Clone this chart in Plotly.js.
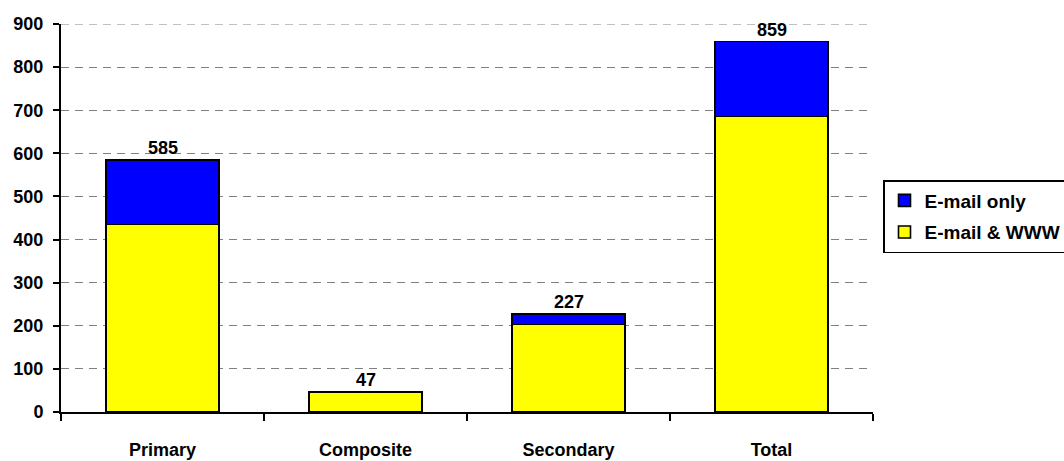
<!DOCTYPE html>
<html>
<head>
<meta charset="utf-8">
<script src="https://cdn.plot.ly/plotly-3.0.1.min.js"></script>
<style>
  html, body { margin: 0; padding: 0; background: #fff; }
  #chart { width: 1064px; height: 461px; }
</style>
</head>
<body>
<div id="chart"></div>
<script>
// School groups along the x axis
const categories = ['Primary', 'Composite', 'Secondary', 'Total'];
// Schools with both e-mail and web access
const emailAndWww = [435, 47, 203, 685];
// Schools with e-mail access only
const emailOnly = [150, 0, 24, 174];
// Axis ticks
const yTicks = [0, 100, 200, 300, 400, 500, 600, 700, 800, 900];

const totals = categories.map((_, i) => emailAndWww[i] + emailOnly[i]);
const bold = s => '<b>' + s + '</b>';

const FAMILY = 'Liberation Sans, Arial, sans-serif';
const font = { family: FAMILY, color: '#000', size: 18 };

const barLine = { color: '#000', width: 1.6 };

const traces = [
  {
    type: 'bar', name: bold('E-mail & WWW'), x: categories, y: emailAndWww,
    legendgroup: 'www', legendrank: 2,
    marker: { color: '#ffff00', line: barLine }, hoverinfo: 'none'
  },
  {
    type: 'bar', name: bold('E-mail only'), x: categories, y: emailOnly,
    legendgroup: 'mail', legendrank: 1,
    marker: { color: '#0000ff', line: barLine }, hoverinfo: 'none'
  }
];

// Total printed above each stacked bar
const annotations = categories.map((c, i) => ({
  x: c, y: totals[i], xref: 'x', yref: 'y',
  text: bold(totals[i]), showarrow: false,
  yanchor: 'bottom', yshift: 0,
  font: { family: FAMILY, size: 18, color: '#000' }
}));

// Dashed gridline along the top of the value range
const shapes = [{
  type: 'line', xref: 'paper', yref: 'y', x0: 0, x1: 1,
  y0: yTicks[yTicks.length - 1], y1: yTicks[yTicks.length - 1],
  line: { color: '#808080', width: 1, dash: '8px,6px' }, layer: 'below'
}];

const layout = {
  width: 1064, height: 461,
  margin: { l: 61, r: 191, t: 24, b: 49, autoexpand: false },
  paper_bgcolor: '#fff', plot_bgcolor: '#fff',
  font: font,
  barmode: 'stack',
  bargap: 0.445,
  showlegend: true,
  legend: {
    xref: 'container', yref: 'container',
    x: 883 / 1064, y: 1 - 180 / 461, xanchor: 'left', yanchor: 'top',
    traceorder: 'grouped',
    bordercolor: '#000', borderwidth: 1.5,
    font: { family: FAMILY, size: 19, color: '#000' },
    itemwidth: 30, tracegroupgap: 4
  },
  xaxis: {
    type: 'category',
    tickvals: categories, ticktext: categories.map(bold),
    showline: true, linecolor: '#000', linewidth: 2,
    ticks: 'outside', tickson: 'boundaries', ticklen: 7, tickwidth: 2, tickcolor: '#000',
    ticklabelstandoff: 20,
    tickfont: { family: FAMILY, size: 18, color: '#000' },
    showgrid: false, zeroline: false, fixedrange: true
  },
  yaxis: {
    range: [0, 900], tickvals: yTicks, ticktext: yTicks.map(bold),
    showline: true, linecolor: '#000', linewidth: 2,
    ticks: 'outside', ticklen: 6, tickwidth: 2, tickcolor: '#000',
    ticklabelstandoff: 6,
    tickfont: { family: FAMILY, size: 18, color: '#000' },
    showgrid: true, gridcolor: '#808080', gridwidth: 1, griddash: '8px,6px',
    zeroline: false, fixedrange: true
  },
  annotations: annotations,
  shapes: shapes
};

Plotly.newPlot('chart', traces, layout, { displayModeBar: false, staticPlot: true });
</script>
</body>
</html>
